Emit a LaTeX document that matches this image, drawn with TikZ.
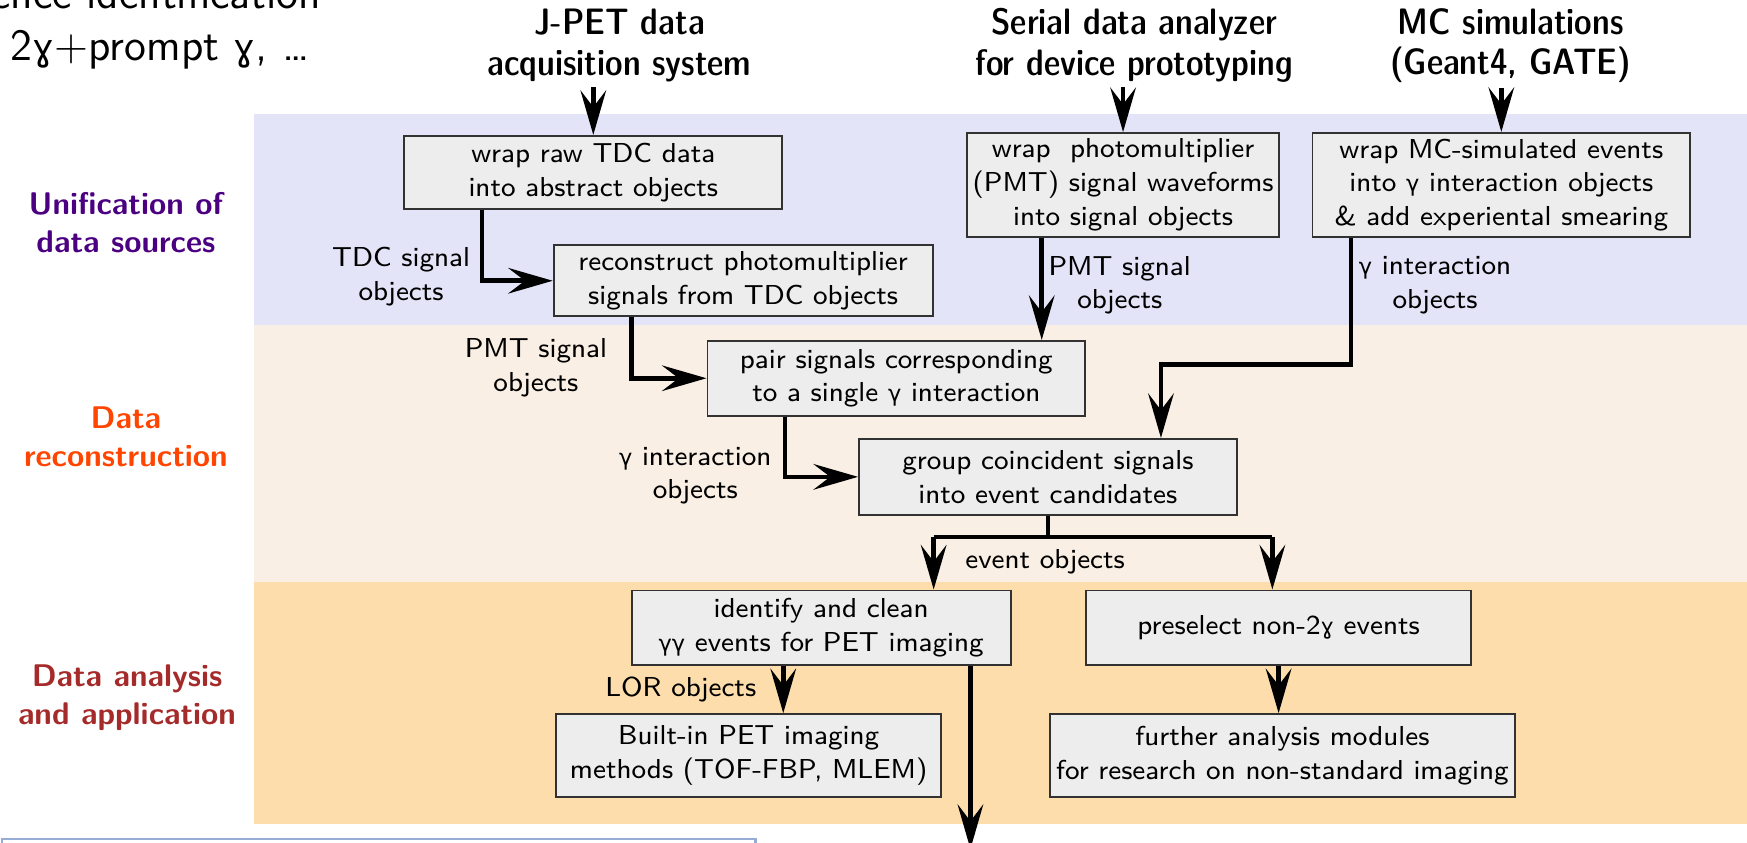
\documentclass[tikz,border=0pt]{standalone}
\usepackage{fontspec}
\usepackage{xcolor}
\usepackage{tikz}
\usetikzlibrary{arrows.meta, positioning, calc}
\newfontfamily\gfont{DejaVu Sans}[Scale=0.82]
\newcommand{\gam}{{\gfont γ}}
\newcommand{\lgam}{{\gfont ɣ}}
\newcommand{\jpetbox}{\sffamily\fontsize{7}{8.6}\selectfont}
\newcommand{\jpethead}{\sffamily\fontseries{sbc}\fontsize{9.4}{10.4}\selectfont}
\newcommand{\jpetband}{\sffamily\bfseries\fontsize{8}{9.6}\selectfont}
\definecolor{bandblue}{RGB}{228,228,248}
\definecolor{bandpeach}{RGB}{250,239,228}
\definecolor{bandorange}{RGB}{253,221,172}
\definecolor{boxfill}{RGB}{237,237,237}
\definecolor{boxline}{RGB}{50,50,50}
\definecolor{unifcol}{RGB}{75,0,130}
\definecolor{reconcol}{RGB}{255,69,0}
\definecolor{anacol}{RGB}{165,42,42}
\definecolor{frameblue}{RGB}{150,172,212}

\begin{document}
\begin{tikzpicture}[x=0.1mm, y=-0.1mm,
    proc/.style={rectangle, draw=boxline, fill=boxfill, line width=0.5pt, font=\jpetbox, align=center, inner sep=1.5pt},
    lbl/.style={font=\jpetbox, align=center, inner sep=1pt},
    src/.style={font=\jpethead, align=center, inner sep=1pt},
    bandlbl/.style={font=\jpetband, align=center},
    conn/.style={line width=1.2pt},
    arr/.style={conn, -{Stealth[length=4mm, width=2.3mm, inset=1.5mm]}}
  ]
  \useasboundingbox (0,0) rectangle (1568,756);

  % Bands
  \fill[bandblue] (228,102) rectangle (1568,292);
  \fill[bandpeach] (228,292) rectangle (1568,522);
  \fill[bandorange] (228,522) rectangle (1568,740);

  % Cut text from the slide
  \node[font=\sffamily\fontsize{11.4}{13}\selectfont, anchor=base east, inner sep=0] (topl1) at (289,8) {ence identification};
  \node[font=\sffamily\fontsize{11.4}{13}\selectfont, anchor=base west, inner sep=0] (topl2) at (9,54) {2\lgam+prompt \lgam, …};
  \draw[frameblue, line width=0.6pt] (2,800) |- (678,753) -- (678,800);

  % Band labels
  \node[bandlbl, text=unifcol] (unif) at (113,200) {Unification of\\data sources};
  \node[bandlbl, text=reconcol] (recon) at (113,392) {Data\\reconstruction};
  \node[bandlbl, text=anacol] (ana) at (114,626) {Data analysis\\and application};

  % Data sources
  \node[src] (jpet) at (556,41) {J-PET data\\acquisition system};
  \node[src] (serial) at (1018,41) {Serial data analyzer\\for device prototyping};
  \node[src] (mcsim) at (1356,41) {MC simulations\\(Geant4, GATE)};

  % Processing boxes
  \node[proc, minimum width=33.9mm, minimum height=6.6mm] (wraptdc) at (532.5,155) {wrap raw TDC data\\into abstract objects};
  \node[proc, minimum width=34mm, minimum height=6.4mm] (recpmt) at (667,252) {reconstruct photomultiplier\\signals from TDC objects};
  \node[proc, minimum width=27.8mm, minimum height=8.8mm] (wrappmt) at (1008,166) {wrap~ photomultiplier\\(PMT) signal waveforms\\into signal objects};
  \node[proc, minimum width=33.9mm, minimum height=8.8mm] (wrapmc) at (1347.5,166) {wrap MC-simulated events\\into \gam\ interaction objects\\\& add experiental smearing};
  \node[proc, minimum width=33.9mm, minimum height=6.7mm] (pair) at (804.5,339.5) {pair signals corresponding\\to a single \gam\ interaction};
  \node[proc, minimum width=33.9mm, minimum height=6.8mm] (group) at (940.5,428) {group coincident signals\\into event candidates};
  \node[proc, minimum width=34mm, minimum height=6.7mm] (identify) at (737,563.5) {identify and clean\\\gam\gam\ events for PET imaging};
  \node[proc, minimum width=34.6mm, minimum height=6.7mm] (presel) at (1147.6,563.5) {preselect non-2\lgam\ events};
  \node[proc, minimum width=34.6mm, minimum height=7.4mm] (builtin) at (672,678) {Built-in PET imaging\\methods (TOF-FBP, MLEM)};
  \node[proc, minimum width=41.4mm, minimum height=7.4mm] (further) at (1151,678) {further analysis modules\\for research on non-standard imaging};

  % Connector labels
  \node[lbl] (tdclbl) at (360,248) {TDC signal\\objects};
  \node[lbl] (pmtlbl) at (481,330) {PMT signal\\objects};
  \node[lbl] (pmtlblb) at (1005,256) {PMT signal\\objects};
  \node[lbl] (gamlbl) at (624,427) {\gam\ interaction\\objects};
  \node[lbl] (gamlblb) at (1288,256) {\gam\ interaction\\objects};
  \node[lbl] (evtlbl) at (938,504) {event objects};
  \node[lbl] (lorlbl) at (611,619) {LOR objects};

  % Connectors
  \coordinate (mcbend) at (1042,327);
  \coordinate (forkL) at (838,482);
  \coordinate (forkR) at (1142,482);
  \coordinate (out) at (871,762);
  \draw[arr] (jpet.south -| wraptdc.north) -- (wraptdc.north);
  \draw[arr] (serial.south -| wrappmt.north) -- (wrappmt.north);
  \draw[arr] (mcsim.south -| wrapmc.north) -- (wrapmc.north);
  \draw[arr] ([xshift=-10mm]wraptdc.south) |- (recpmt);
  \draw[arr] ([xshift=-10mm]recpmt.south) |- (pair);
  \draw[arr] ([xshift=-7.3mm]wrappmt.south) -- ([xshift=-7.3mm]wrappmt.south |- pair.north);
  \draw[arr] ([xshift=-10mm]pair.south) |- (group);
  \draw[arr] ([xshift=-13.5mm]wrapmc.south) |- (mcbend) -- (mcbend |- group.north);
  \draw[conn] (group.south) -- (group.south |- forkL);
  \draw[conn] (forkL) -- (forkR);
  \draw[arr] (forkL) -- (forkL |- identify.north);
  \draw[arr] (forkR) -- (forkR |- presel.north);
  \draw[arr] ([xshift=-3.4mm]identify.south) -- ([xshift=-3.4mm]identify.south |- builtin.north);
  \draw[arr] (presel.south) -- (presel.south |- further.north);
  \draw[arr] (identify.south -| out) -- (out);
\end{tikzpicture}
\end{document}
